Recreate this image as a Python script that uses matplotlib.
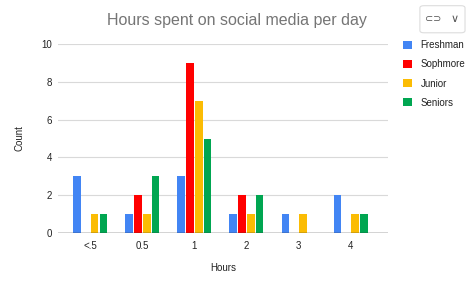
import matplotlib.pyplot as plt
import numpy as np
from matplotlib.patches import FancyBboxPatch

plt.rcParams['font.family'] = ['Liberation Sans', 'DejaVu Sans']

categories = ['<.5', '0.5', '1', '2', '3', '4']
series_names = ['Freshman', 'Sophmore', 'Junior', 'Seniors']
freshman = [3, 1, 3, 1, 1, 2]
sophomore = [0, 2, 9, 2, 0, 0]
junior = [1, 1, 7, 1, 1, 1]
seniors = [1, 3, 5, 2, 0, 1]
colors = ['#4285f4', '#ff0000', '#fbbc04', '#00a651']

fig = plt.figure(figsize=(4.75, 2.85), dpi=100)
ax = fig.add_axes([0.122, 0.182, 0.695, 0.664])

x = np.arange(len(categories))
slot = 0.168
width = 0.148
for i, (vals, name, c) in enumerate(zip([freshman, sophomore, junior, seniors], series_names, colors)):
    ax.bar(x + (i - 1.5) * slot, vals, width, color=c, label=name, zorder=3)

ax.set_xlim(-0.62, 5.72)
ax.set_ylim(0, 10)
ax.set_yticks([0, 2, 4, 6, 8, 10])
ax.set_xticks(x)
ax.set_xticklabels(categories)
ax.yaxis.grid(True, color='#d9d9d9', linewidth=0.8, zorder=0)
ax.axhline(0, color='#333333', linewidth=1, zorder=4)
for s in ax.spines.values():
    s.set_visible(False)
ax.tick_params(axis='x', length=0, labelsize=7, colors='#222222', pad=6)
ax.tick_params(axis='y', length=0, labelsize=7, colors='#222222', pad=4)
ax.set_xlabel('Hours', fontsize=7, color='#222222', labelpad=8)
ax.set_ylabel('Count', fontsize=7, color='#222222', labelpad=12)

fig.text(0.499, 0.928, 'Hours spent on social media per day', ha='center', va='center',
         fontsize=11.5, color='#757575')

leg = fig.legend(loc='upper left', bbox_to_anchor=(0.83, 0.89), frameon=False, fontsize=7,
                 handlelength=0.9, handleheight=0.9, handletextpad=0.9, labelspacing=0.95)
for t in leg.get_texts():
    t.set_color('#222222')

# link / menu button in top right
btn = FancyBboxPatch((0.884, 0.885), 0.095, 0.095, boxstyle='round,pad=0,rounding_size=0.008',
                     transform=fig.transFigure, facecolor='white', edgecolor='#dddddd', linewidth=0.8)
fig.patches.append(btn)
fig.text(0.912, 0.935, '⊂⊃', ha='center', va='center', fontsize=7, color='#555555', family='DejaVu Sans')
fig.text(0.958, 0.935, '∨', ha='center', va='center', fontsize=8, color='#555555', family='DejaVu Sans')

fig.savefig('out.png', dpi=100)
